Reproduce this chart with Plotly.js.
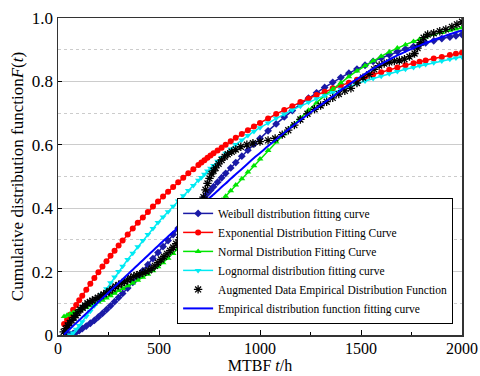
<!DOCTYPE html>
<html>
<head>
<meta charset="utf-8">
<script src="https://cdn.plot.ly/plotly-3.0.1.min.js"></script>
<style>html,body{margin:0;padding:0;background:#fff;}#chart{width:480px;height:376px;}</style>
</head>
<body>
<div id="chart"></div>
<script>
// MTBF t (h) at which the fitted curves are evaluated
const tFit = [30,45,60,75,90,105,120,140,160,180,200,220,240,260,280,300,320,345,370,395,420,445,470,495,520,545,570,595,620,645,670,695,710,725,740,755,770,790,810,830,855,880,910,940,970,1000,1040,1080,1120,1160,1200,1240,1280,1320,1360,1400,1440,1480,1520,1560,1600,1640,1680,1720,1760,1790,1820,1860,1900,1940,1970,2000];

const weibull = [null,0.000,0.002,0.005,0.009,0.014,0.020,0.028,0.037,0.046,0.057,0.068,0.080,0.092,0.105,0.118,0.131,0.148,0.166,0.184,0.203,0.222,0.241,0.260,0.279,0.298,0.317,0.337,0.356,0.375,0.394,0.413,0.424,0.435,0.446,0.457,0.468,0.482,0.496,0.510,0.527,0.544,0.564,0.583,0.602,0.620,0.644,0.666,0.688,0.708,0.728,0.747,0.764,0.781,0.797,0.812,0.826,0.839,0.851,0.863,0.874,0.884,0.894,0.902,0.910,0.916,0.922,0.928,0.935,0.940,0.944,0.948];

const exponential = [0.035,0.048,0.064,0.080,0.095,0.110,0.124,0.143,0.162,0.180,0.198,0.216,0.233,0.250,0.266,0.282,0.298,0.317,0.336,0.354,0.371,0.388,0.405,0.421,0.437,0.452,0.467,0.482,0.496,0.510,0.523,0.536,0.544,0.551,0.559,0.566,0.573,0.582,0.591,0.600,0.611,0.622,0.634,0.646,0.658,0.669,0.683,0.697,0.710,0.722,0.735,0.746,0.757,0.767,0.778,0.787,0.796,0.805,0.814,0.822,0.829,0.837,0.844,0.851,0.857,0.862,0.866,0.872,0.877,0.883,0.887,0.890];

const normal = [0.058,0.062,0.066,0.070,0.074,0.078,0.082,0.087,0.092,0.098,0.104,0.110,0.117,0.124,0.132,0.140,0.147,0.155,0.164,0.173,0.182,0.192,0.203,0.215,0.228,0.242,0.257,0.273,0.290,0.308,0.326,0.344,0.356,0.367,0.378,0.388,0.398,0.411,0.425,0.438,0.455,0.473,0.493,0.514,0.534,0.555,0.582,0.609,0.635,0.660,0.685,0.709,0.733,0.755,0.776,0.796,0.815,0.833,0.849,0.865,0.879,0.893,0.905,0.916,0.926,0.933,0.940,0.948,0.954,0.961,0.965,0.969];

const lognormal = [null,null,0.000,0.006,0.018,0.030,0.042,0.058,0.075,0.092,0.110,0.128,0.146,0.165,0.183,0.200,0.217,0.238,0.258,0.278,0.298,0.317,0.336,0.355,0.372,0.389,0.406,0.423,0.439,0.456,0.472,0.488,0.497,0.507,0.517,0.526,0.535,0.548,0.560,0.573,0.587,0.601,0.615,0.629,0.642,0.654,0.669,0.684,0.697,0.710,0.722,0.734,0.745,0.755,0.765,0.775,0.784,0.793,0.801,0.809,0.816,0.824,0.831,0.838,0.844,0.849,0.853,0.859,0.864,0.870,0.874,0.877];

const empiricalFit = [0.002,0.011,0.020,0.029,0.038,0.047,0.056,0.068,0.080,0.092,0.104,0.116,0.128,0.140,0.152,0.164,0.176,0.191,0.206,0.221,0.236,0.251,0.266,0.281,0.296,0.311,0.325,0.340,0.355,0.370,0.384,0.399,0.408,0.417,0.426,0.435,0.443,0.455,0.467,0.478,0.493,0.507,0.524,0.541,0.558,0.574,0.596,0.617,0.638,0.658,0.678,0.697,0.716,0.734,0.752,0.772,0.790,0.807,0.824,0.840,0.855,0.869,0.882,0.894,0.905,0.913,0.921,0.931,0.940,0.949,0.955,0.961];

// augmented data empirical distribution function
const tEmp = [28,38,48,58,68,78,88,98,110,122,134,146,158,170,184,198,212,226,240,255,270,285,300,315,330,345,360,375,390,405,420,435,450,465,480,495,510,525,540,555,570,585,600,615,630,645,660,675,690,700,710,720,730,740,750,760,770,780,795,810,825,840,860,880,905,935,965,1000,1040,1075,1110,1140,1170,1200,1235,1270,1300,1330,1360,1390,1420,1450,1480,1510,1540,1565,1590,1615,1640,1665,1690,1715,1740,1765,1780,1795,1810,1830,1860,1890,1920,1950,1975,2000];
const empData = [0.010,0.020,0.030,0.038,0.046,0.055,0.062,0.070,0.080,0.086,0.093,0.100,0.104,0.108,0.113,0.118,0.123,0.128,0.133,0.139,0.146,0.153,0.158,0.163,0.168,0.174,0.180,0.185,0.189,0.192,0.196,0.200,0.204,0.210,0.218,0.228,0.238,0.247,0.256,0.266,0.276,0.288,0.300,0.310,0.318,0.328,0.340,0.355,0.372,0.390,0.412,0.435,0.458,0.478,0.494,0.508,0.518,0.527,0.540,0.552,0.562,0.570,0.578,0.585,0.594,0.600,0.605,0.610,0.614,0.620,0.632,0.646,0.662,0.680,0.698,0.712,0.724,0.736,0.748,0.760,0.770,0.778,0.795,0.812,0.822,0.838,0.850,0.856,0.860,0.864,0.866,0.870,0.878,0.888,0.905,0.922,0.938,0.948,0.952,0.958,0.964,0.972,0.980,0.988];

const seriesNames = [
  "Weibull distribution fitting curve",
  "Exponential Distribution Fitting Curve",
  "Normal Distribution Fitting Curve",
  "Lognormal distribution fitting curve",
  "Augmented Data Empirical Distribution Function",
  "Empirical distribution function fitting curve"
];
const xTickVals = [0,500,1000,1500,2000];
const xTickText = ["0","500","1000","1500","2000"];
const yTickVals = [0,0.2,0.4,0.6,0.8,1.0];
const yTickText = ["0","0.2","0.4","0.6","0.8","1.0"];

const FONT = "Liberation Serif";

const traces = [
  {x:tFit, y:weibull, name:seriesNames[0], mode:"lines+markers",
   line:{color:"#1a1aa6", width:1.5}, marker:{symbol:"diamond", size:6, color:"#1a1aa6"}},
  {x:tFit, y:exponential, name:seriesNames[1], mode:"lines+markers",
   line:{color:"#ff0000", width:1.5}, marker:{symbol:"circle", size:6, color:"#ff0000"}},
  {x:tFit, y:normal, name:seriesNames[2], mode:"lines+markers",
   line:{color:"#00e600", width:1.5}, marker:{symbol:"triangle-up", size:6, color:"#00e600"}},
  {x:tFit, y:lognormal, name:seriesNames[3], mode:"lines+markers",
   line:{color:"#00eaf2", width:1.5}, marker:{symbol:"triangle-down", size:6, color:"#00eaf2"}},
  {x:tEmp, y:empData, name:seriesNames[4], mode:"markers",
   marker:{symbol:"asterisk-open", size:7, color:"#000", line:{color:"#000", width:1.3}}},
  {x:tFit, y:empiricalFit, name:seriesNames[5], mode:"lines",
   line:{color:"#0000ff", width:2, shape:"spline"}}
];

const layout = {
  width:480, height:376,
  margin:{l:58, r:18, t:18, b:41},
  paper_bgcolor:"#fff", plot_bgcolor:"#fff",
  font:{family:FONT, size:17, color:"#000"},
  showlegend:true,
  legend:{
    x:0.978, xanchor:"right", y:0.035, yanchor:"bottom",
    bgcolor:"#fff", bordercolor:"#000", borderwidth:1,
    font:{family:FONT, size:11.5, color:"#000"},
    itemwidth:30, tracegroupgap:0
  },
  xaxis:{
    range:[0,2000], tickvals:xTickVals, ticktext:xTickText,
    ticks:"inside", ticklen:5, tickcolor:"#000",
    minor:{dtick:250, ticks:"inside", ticklen:3, tickcolor:"#000", showgrid:false},
    showgrid:false, zeroline:false,
    showline:true, linecolor:"#333", linewidth:1.5, mirror:true,
    tickfont:{family:FONT, size:16, color:"#000"},
    ticklabelstandoff:-2,
    title:{text:"MTBF <i>t</i>/h", font:{family:FONT, size:16, color:"#000"}, standoff:4}
  },
  yaxis:{
    range:[0,1], tickvals:yTickVals, ticktext:yTickText,
    ticks:"inside", ticklen:4, tickcolor:"#000",
    showgrid:true, gridcolor:"#cccccc", gridwidth:1,
    minor:{dtick:0.1, showgrid:true, gridcolor:"#cccccc", griddash:"dot", gridwidth:1, ticks:""},
    zeroline:false,
    showline:true, linecolor:"#333", linewidth:1.5, mirror:true,
    tickfont:{family:FONT, size:17, color:"#000"},
    title:{text:"Cumulative distribution function<i>F</i>(<i>t</i>)", font:{family:FONT, size:17, color:"#000"}, standoff:4}
  }
};

Plotly.newPlot("chart", traces, layout, {displayModeBar:false, staticPlot:true});
</script>
</body>
</html>
